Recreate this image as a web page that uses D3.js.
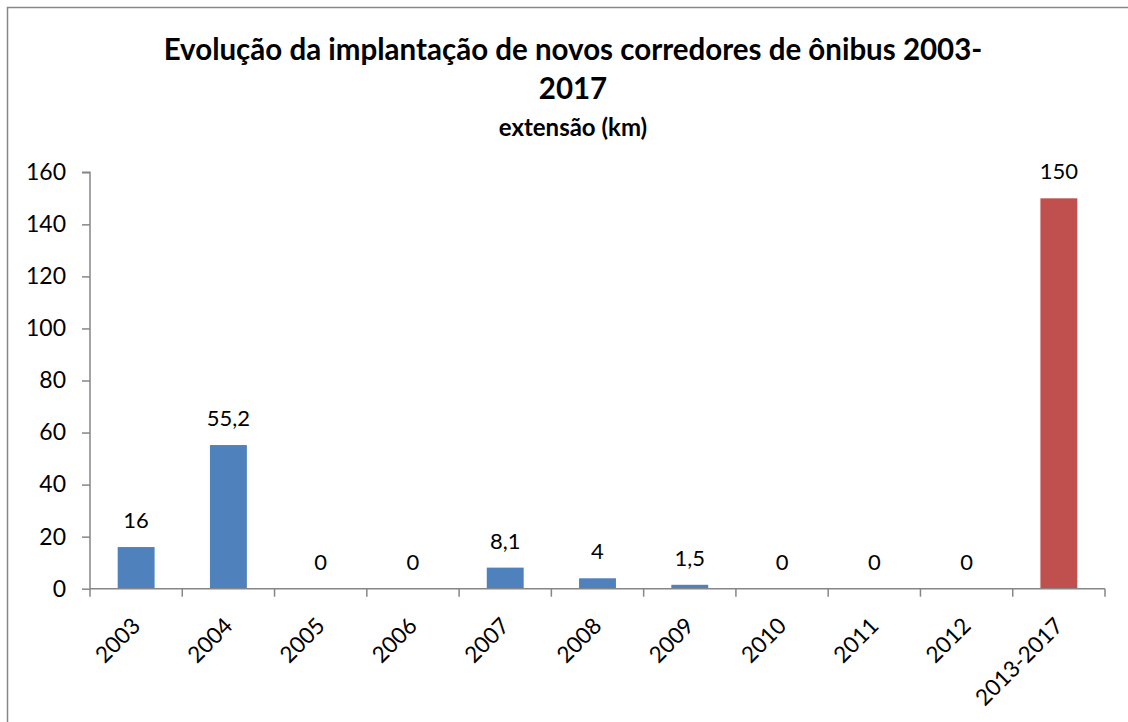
<!DOCTYPE html>
<html>
<head>
<meta charset="utf-8">
<title>Corredores de ônibus</title>
<style>
  body { margin: 0; background: #fff; }
  text { font-family: "Lato", "Open Sans", sans-serif; fill: #000; }
  .title { font-weight: 700; font-size: 29.5px; }
  .subtitle { font-weight: 700; font-size: 24px; }
  .tick text { font-size: 23px; }
  .value { font-size: 22px; }
</style>
</head>
<body>
<svg id="chart"></svg>
<script src="https://cdnjs.cloudflare.com/ajax/libs/d3/7.8.5/d3.min.js"></script>
<script>
var categories = ['2003', '2004', '2005', '2006', '2007', '2008', '2009', '2010', '2011', '2012', '2013-2017'];
var values = [16, 55.2, 0, 0, 8.1, 4, 1.5, 0, 0, 0, 150];
var barColors = ['#4f81bd', '#4f81bd', '#4f81bd', '#4f81bd', '#4f81bd', '#4f81bd', '#4f81bd', '#4f81bd', '#4f81bd', '#4f81bd', '#c0504d'];
var yTicks = [0, 20, 40, 60, 80, 100, 120, 140, 160];

var width = 1128, height = 722;
var plotLeft = 90, plotRight = 1105, plotTop = 172.3, plotBottom = 588.7;
var axisColor = '#868686';

var svg = d3.select('#chart')
  .attr('width', width)
  .attr('height', height);

// outer chart border (cut off at right and bottom like the original)
svg.append('rect')
  .attr('x', 7.5).attr('y', 7.5)
  .attr('width', width + 20).attr('height', height + 20)
  .attr('fill', 'none')
  .attr('stroke', '#878787')
  .attr('stroke-width', 1.5);

svg.append('text').attr('class', 'title')
  .attr('x', 573).attr('y', 60)
  .attr('text-anchor', 'middle')
  .text('Evolução da implantação de novos corredores de ônibus 2003-');
svg.append('text').attr('class', 'title')
  .attr('x', 573).attr('y', 99)
  .attr('text-anchor', 'middle')
  .text('2017');
svg.append('text').attr('class', 'subtitle')
  .attr('x', 573).attr('y', 136)
  .attr('text-anchor', 'middle')
  .text('extensão (km)');

var x = d3.scaleBand()
  .domain(categories)
  .range([plotLeft, plotRight])
  .paddingInner(0.6)
  .paddingOuter(0.3);

var band = d3.scaleBand().domain(categories).range([plotLeft, plotRight]);

var y = d3.scaleLinear()
  .domain([0, 160])
  .range([plotBottom, plotTop]);

// y axis
var yAxis = svg.append('g')
  .attr('transform', 'translate(' + plotLeft + ',0)')
  .call(d3.axisLeft(y).tickValues(yTicks).tickSize(8).tickPadding(16));
yAxis.select('.domain').attr('stroke', axisColor).attr('stroke-width', 1.5)
  .attr('d', 'M-8,' + plotTop + 'H0V' + plotBottom);
yAxis.selectAll('.tick line').attr('stroke', axisColor).attr('stroke-width', 1.5);
yAxis.selectAll('.tick text').attr('fill', '#000');

// bars
svg.selectAll('.bar')
  .data(values)
  .enter()
  .append('rect')
  .attr('class', 'bar')
  .attr('x', function(d, i) { return x(categories[i]); })
  .attr('y', function(d) { return y(d); })
  .attr('width', x.bandwidth())
  .attr('height', function(d) { return plotBottom - y(d); })
  .attr('fill', function(d, i) { return barColors[i]; });

// x axis: ticks at band boundaries
var xg = svg.append('g');
xg.append('line')
  .attr('x1', plotLeft).attr('x2', plotRight)
  .attr('y1', plotBottom).attr('y2', plotBottom)
  .attr('stroke', axisColor).attr('stroke-width', 1.5);
var bounds = categories.map(function(c) { return band(c); }).concat([plotRight]);
xg.selectAll('.xtick')
  .data(bounds)
  .enter()
  .append('line')
  .attr('x1', function(d) { return d; })
  .attr('x2', function(d) { return d; })
  .attr('y1', plotBottom)
  .attr('y2', plotBottom + 8)
  .attr('stroke', axisColor).attr('stroke-width', 1.5);

xg.selectAll('.xlabel')
  .data(categories)
  .enter()
  .append('text')
  .attr('class', 'xlabel')
  .attr('font-size', 22.5)
  .attr('text-anchor', 'end')
  .attr('dy', '0.35em')
  .attr('transform', function(d) {
    return 'translate(' + (band(d) + band.bandwidth() / 2 + 0) + ',' + (plotBottom + 33) + ') rotate(-45)';
  })
  .text(function(d) { return d; });

// value labels
svg.selectAll('.value')
  .data(values)
  .enter()
  .append('text')
  .attr('class', 'value')
  .attr('text-anchor', 'middle')
  .attr('x', function(d, i) { return x(categories[i]) + x.bandwidth() / 2; })
  .attr('y', function(d) { return y(d) - 19; })
  .text(function(d) { return String(d).replace('.', ','); });
</script>
</body>
</html>
